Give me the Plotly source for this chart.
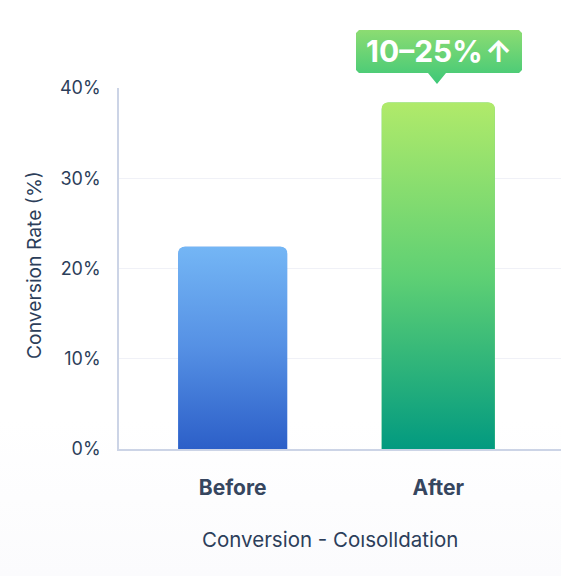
import math
import plotly.graph_objects as go

# values
categories = ["Before", "After"]
conversion = [22.4, 38.4]
bar_widths = [0.53, 0.55]
bar_top_colors = ["#74b6f5", "#b0ea6a"]
bar_mid_colors = ["#5590e4", "#5fd074"]
bar_bottom_colors = ["#2c5fc8", "#029a80"]
y_ticks = [0, 10, 20, 30, 40]
y_tick_labels = ["0%", "10%", "20%", "30%", "40%"]

WIDTH, HEIGHT = 561, 576
TEXT = "#2c3e5a"
FONT = "Inter"

# chart area in pixels
LEFT, RIGHT, TOP, BOTTOM = 119, 561, 88, 449
x_range = [-0.553, 1.597]
y_range = [0, 40]


def vgrad(bottom, mid, top):
    return dict(type="vertical", colorscale=[[0, bottom], [0.5, mid], [1, top]])


def rounded_bar(center, width, value, rx=0.029, ry=0.66):
    # outline of a bar with rounded top corners, filled with a gradient
    l, r = center - width / 2, center + width / 2
    angles = [math.pi / 2 * k / 6 for k in range(7)]
    xs, ys = [l], [0]
    for a in angles:
        xs.append(l + rx - rx * math.cos(a))
        ys.append(value - ry + ry * math.sin(a))
    for a in reversed(angles):
        xs.append(r - rx + rx * math.cos(a))
        ys.append(value - ry + ry * math.sin(a))
    xs.append(r)
    ys.append(0)
    return xs, ys


fig = go.Figure()

# page background, very faint fade at the bottom
fig.add_trace(go.Scatter(
    x=[0, WIDTH, WIDTH, 0], y=[420, 420, HEIGHT, HEIGHT],
    mode="none", fill="toself", hoverinfo="skip", showlegend=False,
    fillgradient=dict(type="vertical", colorscale=[[0, "#fbfbfd"], [1, "#ffffff"]]),
    xaxis="x", yaxis="y",
))

# callout box with its pointer
fig.add_trace(go.Scatter(
    x=[359, 519, 522, 522, 519, 446, 437, 428, 359, 356, 356, 359],
    y=[30, 30, 33, 70, 73, 73, 84, 73, 73, 70, 33, 30],
    mode="none", fill="toself", hoverinfo="skip", showlegend=False,
    fillgradient=dict(type="vertical", colorscale=[[0, "#3ec878"], [1, "#8cdc72"]]),
    xaxis="x", yaxis="y",
))

# bars
fig.add_trace(go.Bar(
    x=[0, 1], y=conversion, width=bar_widths,
    marker=dict(color=bar_mid_colors, line=dict(width=0), cornerradius=7),
    hoverinfo="skip", showlegend=False, xaxis="x2", yaxis="y2",
))
for i, value in enumerate(conversion):
    xs, ys = rounded_bar(i, bar_widths[i], value)
    fig.add_trace(go.Scatter(
        x=xs, y=ys, mode="none", fill="toself", hoverinfo="skip", showlegend=False,
        fillgradient=vgrad(bar_bottom_colors[i], bar_mid_colors[i], bar_top_colors[i]),
        xaxis="x2", yaxis="y2",
    ))

fig.add_annotation(
    text="<b>10–25%\u200a↑</b>", x=439, y=51, xref="x", yref="y", showarrow=False,
    font=dict(family=FONT, size=30, color="white"),
)
# axis titles sit off-centre in the reference, so they are placed by hand
fig.add_annotation(
    text="Conversion - Coısolldation", x=329.5, y=539, xref="x", yref="y", showarrow=False,
    font=dict(family=FONT, size=20.5, color=TEXT),
)
fig.add_annotation(
    text="Conversion Rate (%)", x=34, y=265, xref="x", yref="y", showarrow=False, textangle=-90,
    font=dict(family=FONT, size=19.3, color=TEXT),
)

fig.update_layout(
    width=WIDTH, height=HEIGHT, autosize=False,
    margin=dict(l=0, r=0, t=0, b=0),
    paper_bgcolor="white", plot_bgcolor="rgba(0,0,0,0)",
    font=dict(family=FONT, color=TEXT),
    # full page pixel axes for the decoration
    xaxis=dict(domain=[0, 1], range=[0, WIDTH], visible=False),
    yaxis=dict(domain=[0, 1], range=[HEIGHT, 0], visible=False),
    xaxis2=dict(
        domain=[LEFT / WIDTH, RIGHT / WIDTH], range=x_range, anchor="y2",
        tickvals=[0, 1], ticktext=["<b>%s</b>" % c for c in categories],
        tickfont=dict(size=21, color="#36465f"), ticks="", ticklabelstandoff=19,
        showgrid=False, zeroline=False, automargin=False,
        showline=True, linecolor="#ccd4e6", linewidth=1.5,
    ),
    yaxis2=dict(
        domain=[1 - BOTTOM / HEIGHT, 1 - TOP / HEIGHT], range=y_range, anchor="x2",
        tickvals=y_ticks, ticktext=y_tick_labels,
        tickfont=dict(size=18, color=TEXT), ticks="", ticklabelstandoff=13,
        showgrid=True, gridcolor="#f0f1f7", gridwidth=1, zeroline=False, automargin=False,
        showline=True, linecolor="#ccd4e6", linewidth=1.5,
    ),
)

fig.write_html("out.html", config={"displayModeBar": False},
               post_script="document.body.style.margin='0';")
